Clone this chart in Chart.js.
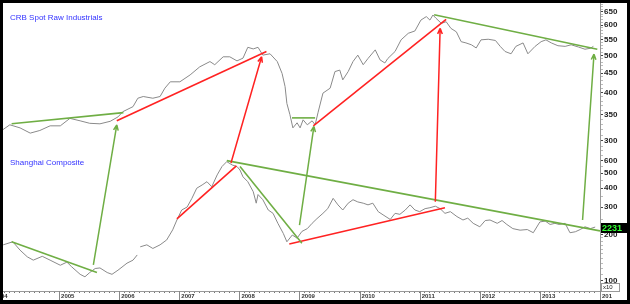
<!DOCTYPE html>
<html>
<head>
<meta charset="utf-8">
<script src="https://cdn.jsdelivr.net/npm/chart.js@4.4.1/dist/chart.umd.min.js"></script>
<style>
  html, body { margin: 0; padding: 0; background: #000; }
  #wrap { position: absolute; left: 3px; top: 3px; width: 624px; height: 297px; background: #fff; }
  canvas { display: block; }
</style>
</head>
<body>
<div id="wrap"><canvas id="chart" width="624" height="297"></canvas></div>
<script>
// CRB Spot Raw Industrials, decimal years
const crbYears = [
  2004.02, 2004.18, 2004.35, 2004.52, 2004.68, 2004.85, 2005.02, 2005.18, 2005.35, 2005.51,
  2005.68, 2005.85, 2005.98, 2006.06, 2006.23, 2006.31, 2006.40, 2006.56, 2006.68, 2006.76,
  2006.85, 2007.01, 2007.18, 2007.34, 2007.51, 2007.59, 2007.73, 2007.84, 2007.96, 2008.06,
  2008.14, 2008.23, 2008.31, 2008.39, 2008.51, 2008.63, 2008.71, 2008.76, 2008.79, 2008.84,
  2008.89, 2008.96, 2009.01, 2009.06, 2009.13, 2009.21, 2009.26, 2009.31, 2009.39, 2009.51,
  2009.59, 2009.67, 2009.72, 2009.81, 2009.89, 2009.97, 2010.06, 2010.14, 2010.26, 2010.34,
  2010.42, 2010.47, 2010.59, 2010.69, 2010.81, 2010.92, 2011.02, 2011.11, 2011.17, 2011.22,
  2011.27, 2011.36, 2011.44, 2011.52, 2011.61, 2011.69, 2011.77, 2011.86, 2011.94, 2012.02,
  2012.14, 2012.26, 2012.34, 2012.42, 2012.52, 2012.60, 2012.72, 2012.80, 2012.92, 2013.02,
  2013.10, 2013.19, 2013.30, 2013.42, 2013.52, 2013.64, 2013.75, 2013.84, 2013.89
];
const crbValues = [
  317, 330, 324, 314, 319, 328, 328, 343, 338, 333,
  332, 337, 346, 357, 368, 387, 391, 387, 391, 411,
  427, 427, 445, 467, 482, 473, 496, 496, 484, 492,
  525, 520, 525, 501, 505, 482, 449, 415, 375, 351,
  324, 334, 324, 340, 330, 338, 330, 356, 399, 411,
  454, 458, 432, 454, 482, 501, 473, 491, 517, 487,
  478, 491, 512, 549, 571, 579, 618, 631, 618, 637,
  625, 606, 612, 588, 576, 543, 539, 533, 523, 549,
  551, 547, 528, 512, 505, 528, 539, 505, 528, 543,
  549, 539, 530, 528, 533, 526, 519, 522, 528
];

// Shanghai Composite (index points, axis labelled x10)
const sseYears = [
  2004.07, 2004.23, 2004.35, 2004.47, 2004.57, 2004.72, 2004.85, 2005.02, 2005.13, 2005.21,
  2005.35, 2005.43, 2005.51, 2005.60, 2005.68, 2005.80, 2005.88, 2005.98, 2006.13, 2006.23,
  2006.30, 2006.32, 2006.35, 2006.46, 2006.56, 2006.68, 2006.79, 2006.89, 2006.96, 2007.04,
  2007.13, 2007.21, 2007.29, 2007.38, 2007.46, 2007.54, 2007.63, 2007.71, 2007.79, 2007.88,
  2007.96, 2008.01, 2008.06, 2008.14, 2008.23, 2008.28, 2008.31, 2008.39, 2008.48, 2008.56,
  2008.64, 2008.73, 2008.79, 2008.88, 2008.96, 2009.04, 2009.13, 2009.21, 2009.29, 2009.39,
  2009.47, 2009.56, 2009.64, 2009.72, 2009.81, 2009.89, 2009.97, 2010.06, 2010.14, 2010.22,
  2010.31, 2010.39, 2010.51, 2010.59, 2010.67, 2010.76, 2010.84, 2010.92, 2011.00, 2011.09,
  2011.17, 2011.26, 2011.34, 2011.42, 2011.51, 2011.62, 2011.72, 2011.80, 2011.89, 2012.00,
  2012.09, 2012.17, 2012.29, 2012.37, 2012.45, 2012.55, 2012.67, 2012.79, 2012.89, 2013.00,
  2013.09, 2013.17, 2013.25, 2013.32, 2013.42, 2013.50, 2013.59, 2013.67, 2013.75, 2013.84,
  2013.92
];
const sseValues = [
  1710, 1790, 1580, 1430, 1360, 1440, 1360, 1260, 1320, 1230,
  1100, 1060, 1130, 1200, 1210, 1130, 1100, 1170, 1300, 1360,
  1470, null, 1660, 1710, 1620, 1710, 1840, 2140, 2480, 2880,
  3010, 3430, 3990, 4190, 4400, 4080, 4870, 5520, 5940, 5650,
  5520, 5240, 4730, 4400, 3790, 3190, 3630, 3360, 2880, 2740,
  2360, 2030, 1790, 1980, 1890, 2090, 2180, 2360, 2530, 2740,
  2940, 3430, 3110, 2880, 3190, 3360, 3250, 3190, 3110, 3190,
  2810, 2680, 2500, 2740, 2700, 2880, 3110, 2880, 2810, 2940,
  2980, 3050, 2940, 2740, 2810, 2610, 2480, 2550, 2360, 2240,
  2460, 2480, 2360, 2460, 2320, 2180, 2130, 2150, 2050, 2410,
  2440, 2320, 2360, 2320, 2360, 2050, 2080, 2150, 2240, 2180,
  2231
];
const sseLast = 2231;

// trend lines: [year1, value1, year2, value2]
const crbGreenLines = [[2004.21, 332, 2006.07, 355], [2008.875, 344, 2009.26, 344], [2011.24, 638, 2013.955, 519]];
const crbRedLines = [[2005.96, 338, 2008.45, 512], [2009.23, 328, 2011.44, 621]];
const sseGreenLines = [[2004.21, 1790, 2005.63, 1130], [2007.79, 6030, 2014.0, 2106], [2008.01, 5520, 2009.04, 1750]];
const sseRedLines = [[2006.96, 2520, 2007.95, 5570], [2008.83, 1730, 2011.42, 2980]];

// arrows from Shanghai level up to CRB level: [year, sse value, year, crb value]
const greenArrows = [[2005.57, 1265, 2005.96, 330], [2009.00, 2300, 2009.24, 327], [2013.71, 2480, 2013.90, 504]];
const redArrows = [[2007.86, 5820, 2008.37, 496], [2011.26, 3260, 2011.34, 588]];

// axis labels
const crbTicks = [300, 350, 400, 450, 500, 550, 600, 650];
const sseTicks = [1000, 2000, 3000, 4000, 5000, 6000];
const yearTicks = [2004, 2005, 2006, 2007, 2008, 2009, 2010, 2011, 2012, 2013, 2014];

const GREEN = '#6fae44';
const RED = '#ff2222';
const GREY = '#8a8a8a';

const crbMinor = [];
for (let v = 290; v <= 680; v += 10) crbMinor.push(v);
const sseMinor = [];
for (let v = 900; v < 2000; v += 100) sseMinor.push(v);
for (let v = 2000; v <= 7000; v += 500) sseMinor.push(v);
const monthTicks = [];
for (let i = 0; i <= 120; i++) monthTicks.push(2004 + i / 12);

// first and last year labels are cut off by the frame in the original
const yearLabel = v => v === 2004 ? '04' : v === 2014 ? '201' : String(v);

const toPoints = (xs, ys) => xs.map((x, i) => ({ x, y: ys[i] }));
const segSets = (list, axis, color) => list.map(s => ({
  data: [{ x: s[0], y: s[1] }, { x: s[2], y: s[3] }],
  yAxisID: axis, borderColor: color, borderWidth: 1.6, pointRadius: 0, order: 1
}));

const arrowPlugin = {
  id: 'arrows',
  afterDatasetsDraw(chart) {
    const { ctx } = chart;
    const x = chart.scales.x, yc = chart.scales.yCrb, ys = chart.scales.ySse;
    const draw = (list, color) => list.forEach(([x1, v1, x2, v2]) => {
      const px1 = x.getPixelForValue(x1), py1 = ys.getPixelForValue(v1);
      const px2 = x.getPixelForValue(x2), py2 = yc.getPixelForValue(v2);
      const a = Math.atan2(py2 - py1, px2 - px1);
      ctx.save();
      ctx.strokeStyle = color;
      ctx.lineWidth = 1.5;
      ctx.beginPath();
      ctx.moveTo(px1, py1);
      ctx.lineTo(px2, py2);
      for (const s of [-1, 1]) {
        ctx.moveTo(px2, py2);
        ctx.lineTo(px2 - 6 * Math.cos(a + s * 0.4), py2 - 6 * Math.sin(a + s * 0.4));
      }
      ctx.stroke();
      ctx.restore();
    });
    draw(greenArrows, GREEN);
    draw(redArrows, RED);
  }
};

const decorPlugin = {
  id: 'decor',
  afterDraw(chart) {
    const { ctx, chartArea } = chart;
    const x = chart.scales.x, ys = chart.scales.ySse;
    ctx.save();
    // titles
    ctx.fillStyle = '#3333ff';
    ctx.font = '8px Arial';
    ctx.textBaseline = 'middle';
    ctx.fillText('CRB Spot Raw Industrials', 7, 14.5);
    ctx.fillText('Shanghai Composite', 7, 159.5);
    // long year ticks
    ctx.strokeStyle = '#888';
    ctx.lineWidth = 1;
    yearTicks.forEach(yr => {
      const px = Math.round(x.getPixelForValue(yr)) + 0.5;
      ctx.beginPath();
      ctx.moveTo(px, x.top);
      ctx.lineTo(px, x.bottom);
      ctx.stroke();
    });
    // last value box
    const py = Math.round(ys.getPixelForValue(sseLast));
    ctx.fillStyle = '#000';
    ctx.fillRect(chartArea.right + 1, py - 4, chart.width - chartArea.right - 1, 10);
    ctx.fillStyle = '#33ff33';
    ctx.font = 'bold 9px Arial';
    ctx.textBaseline = 'middle';
    ctx.fillText(String(sseLast), chartArea.right + 2, py + 1.5);
    // x10 box
    ctx.fillStyle = '#fff';
    ctx.fillRect(chartArea.right + 1, chartArea.bottom - 8, 19, 8);
    ctx.strokeStyle = '#999';
    ctx.strokeRect(chartArea.right + 1.5, chartArea.bottom - 7.5, 18, 8);
    ctx.fillStyle = '#222';
    ctx.font = '6px Arial';
    ctx.fillText('x10', chartArea.right + 3, chartArea.bottom - 3.5);
    ctx.restore();
  }
};

const tickFont = { family: 'Arial', size: 8, weight: 'bold' };

new Chart(document.getElementById('chart'), {
  type: 'line',
  data: {
    datasets: [
      ...segSets(crbGreenLines, 'yCrb', GREEN),
      ...segSets(crbRedLines, 'yCrb', RED),
      ...segSets(sseGreenLines, 'ySse', GREEN),
      ...segSets(sseRedLines, 'ySse', RED),
      { data: toPoints(crbYears, crbValues), yAxisID: 'yCrb', borderColor: GREY, borderWidth: 1, pointRadius: 0, order: 2 },
      { data: toPoints(sseYears, sseValues), yAxisID: 'ySse', borderColor: GREY, borderWidth: 1, pointRadius: 0, order: 2, spanGaps: false }
    ]
  },
  options: {
    responsive: false,
    animation: false,
    layout: { padding: 0 },
    plugins: { legend: { display: false }, tooltip: { enabled: false } },
    scales: {
      x: {
        type: 'linear', position: 'bottom', min: 2004.0666, max: 2014.0,
        afterBuildTicks: s => { s.ticks = monthTicks.map(v => ({ value: v })); },
        afterFit: s => { s.height = 9; s.paddingLeft = 0; s.paddingRight = 0; },
        border: { color: '#999' },
        grid: { drawOnChartArea: false, tickLength: 2, tickColor: '#777' },
        ticks: {
          autoSkip: false, maxRotation: 0, minRotation: 0, align: 'start', padding: 0, labelOffset: 2,
          color: '#333', font: { family: 'Arial', size: 6, weight: 'bold' },
          callback: v => Number.isInteger(v) ? yearLabel(v) : ''
        }
      },
      yCrb: {
        type: 'logarithmic', position: 'right', stack: 'right', stackWeight: 147,
        min: 283.8, max: 684.6,
        afterBuildTicks: s => { s.ticks = crbMinor.map(v => ({ value: v })); },
        afterFit: s => { s.width = 27; s.paddingTop = 0; s.paddingBottom = 0; },
        border: { color: '#999' },
        grid: { drawOnChartArea: false, tickLength: 3, tickColor: c => crbTicks.includes(c.tick && c.tick.value) ? '#444' : '#bbb' },
        ticks: { autoSkip: false, padding: 1, color: '#222', font: tickFont, callback: v => crbTicks.includes(v) ? String(v) : '' }
      },
      ySse: {
        type: 'logarithmic', position: 'right', stack: 'right', stackWeight: 141,
        min: 857, max: 7070,
        afterBuildTicks: s => { s.ticks = sseMinor.map(v => ({ value: v })); },
        afterFit: s => { s.width = 27; s.paddingTop = 0; s.paddingBottom = 0; },
        border: { color: '#999' },
        grid: { drawOnChartArea: false, tickLength: 3, tickColor: c => sseTicks.includes(c.tick && c.tick.value) ? '#444' : '#bbb' },
        ticks: { autoSkip: false, padding: 1, color: '#222', font: tickFont, callback: v => sseTicks.includes(v) ? String(v / 10) : '' }
      }
    }
  },
  plugins: [arrowPlugin, decorPlugin]
});
</script>
</body>
</html>
